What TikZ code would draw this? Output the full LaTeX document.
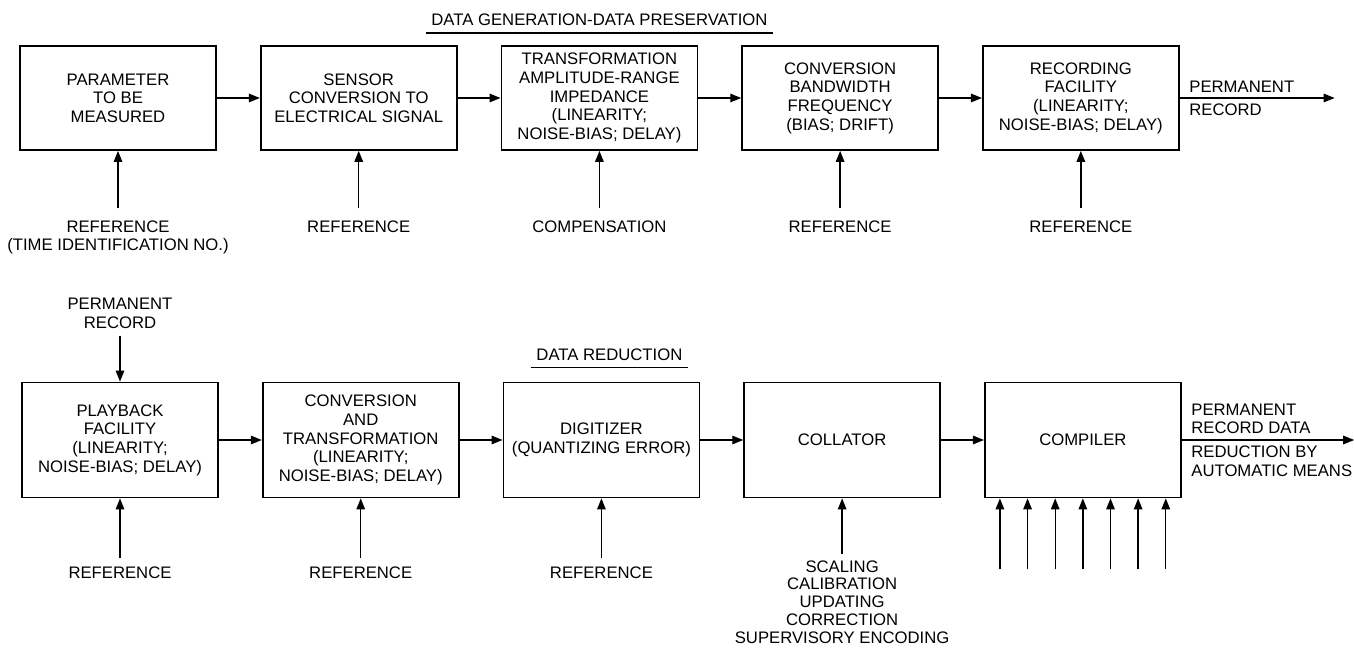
\documentclass[tikz,border=0pt]{standalone}
\usepackage{fontspec}
\setmainfont{Liberation Sans}
\usetikzlibrary{arrows.meta,positioning,calc}
\newcommand{\diagfont}{\fontsize{9.5}{10.6}\selectfont}
\tikzset{
    % boxes of the two chains
    blockbox/.style={
        rectangle, draw=black, line width=1pt, fill=white,
        minimum width=3.92cm, minimum height=2.08cm,
        align=center, inner sep=2pt, font=\diagfont
    },
    lowbox/.style={
        blockbox, minimum height=2.3cm
    },
    arrow/.style={
        -{Triangle[length=0.22cm,width=0.17cm]}, line width=0.8pt
    },
    rule/.style={
        line width=0.8pt
    },
    titlelbl/.style={
        inner xsep=3pt, inner ysep=4pt, font=\diagfont
    },
    reflbl/.style={
        align=center, inner sep=0pt, outer sep=0.24cm, font=\diagfont
    },
    outlbl/.style={
        inner xsep=0.18cm, inner ysep=3pt, font=\diagfont
    }
}
\begin{document}
\begin{tikzpicture}[x=0.02cm, y=-0.02cm, node distance=0.86cm]
\useasboundingbox (0,0) rectangle (1354,651);

% data generation - data preservation
\node[blockbox] (param) at (118,98) {PARAMETER\\TO BE\\MEASURED};
\node[blockbox, right=of param] (sensor) {SENSOR\\CONVERSION TO\\ELECTRICAL SIGNAL};
\node[blockbox, right=of sensor] (transf) {TRANSFORMATION\\AMPLITUDE-RANGE\\IMPEDANCE\\(LINEARITY;\\NOISE-BIAS; DELAY)};
\node[blockbox, right=of transf] (convbw) {CONVERSION\\BANDWIDTH\\FREQUENCY\\(BIAS; DRIFT)};
\node[blockbox, right=of convbw] (recfac) {RECORDING\\FACILITY\\(LINEARITY;\\NOISE-BIAS; DELAY)};

\node[titlelbl, above=0.24cm of transf] (gentitle) {DATA GENERATION-DATA PRESERVATION};
\draw[rule] (gentitle.south west) -- (gentitle.south east);

\node[reflbl, below=1.15cm of param] (ref1) {REFERENCE\\(TIME IDENTIFICATION NO.)};
\node[reflbl, below=1.15cm of sensor] (ref2) {REFERENCE};
\node[reflbl, below=1.15cm of transf] (comp3) {COMPENSATION};
\node[reflbl, below=1.15cm of convbw] (ref4) {REFERENCE};
\node[reflbl, below=1.15cm of recfac] (ref5) {REFERENCE};

\draw[arrow] (param) -- (sensor);
\draw[arrow] (sensor) -- (transf);
\draw[arrow] (transf) -- (convbw);
\draw[arrow] (convbw) -- (recfac);
\draw[arrow] (ref1) -- (param);
\draw[arrow] (ref2) -- (sensor);
\draw[arrow] (comp3) -- (transf);
\draw[arrow] (ref4) -- (convbw);
\draw[arrow] (ref5) -- (recfac);

\coordinate[right=3.1cm of recfac] (recout);
\draw[arrow] (recfac) -- (recout)
    node[pos=0, outlbl, anchor=south west] (permtop) {PERMANENT}
    node[pos=0, outlbl, anchor=north west] (rectop) {RECORD};

% data reduction
\node[lowbox] (playbk) at (120,440) {PLAYBACK\\FACILITY\\(LINEARITY;\\NOISE-BIAS; DELAY)};
\node[lowbox, right=of playbk] (convtr) {CONVERSION\\AND\\TRANSFORMATION\\(LINEARITY;\\NOISE-BIAS; DELAY)};
\node[lowbox, right=of convtr] (digit) {DIGITIZER\\(QUANTIZING ERROR)};
\node[lowbox, right=of digit] (coll) {COLLATOR};
\node[lowbox, right=of coll] (compil) {COMPILER};

\node[titlelbl, above=0.28cm of digit, xshift=0.16cm] (redtitle) {DATA REDUCTION};
\draw[rule] (redtitle.south west) -- (redtitle.south east);

\node[reflbl, outer sep=0.14cm, above=0.92cm of playbk] (permin) {PERMANENT\\RECORD};
\draw[arrow] (permin) -- (playbk);

\node[reflbl, outer sep=0.16cm, below=1.2cm of playbk] (ref6) {REFERENCE};
\node[reflbl, outer sep=0.16cm, below=1.2cm of convtr] (ref7) {REFERENCE};
\node[reflbl, outer sep=0.16cm, below=1.2cm of digit] (ref8) {REFERENCE};
\node[reflbl, outer sep=0.12cm, below=1.12cm of coll,
      font=\fontsize{9.5}{10.2}\selectfont] (scal) {SCALING\\CALIBRATION\\UPDATING\\CORRECTION\\SUPERVISORY ENCODING};

\draw[arrow] (playbk) -- (convtr);
\draw[arrow] (convtr) -- (digit);
\draw[arrow] (digit) -- (coll);
\draw[arrow] (coll) -- (compil);
\draw[arrow] (ref6) -- (playbk);
\draw[arrow] (ref7) -- (convtr);
\draw[arrow] (ref8) -- (digit);
\draw[arrow] (scal) -- (coll);

% unlabelled inputs of the compiler
\foreach \i [count=\k] in {-3,...,3} {
    \coordinate (cin\k) at ($(compil.south)+(\i*0.553cm,-1.42cm)$);
    \draw[arrow] (cin\k) -- (cin\k |- compil.south);
}

\coordinate[right=3.45cm of compil] (compout);
\draw[arrow] (compil) -- (compout)
    node[pos=0, outlbl, anchor=south west, align=left] (permbot) {PERMANENT\\RECORD DATA}
    node[pos=0, outlbl, anchor=north west, align=left] (autobot) {REDUCTION BY\\AUTOMATIC MEANS};

\end{tikzpicture}
\end{document}
